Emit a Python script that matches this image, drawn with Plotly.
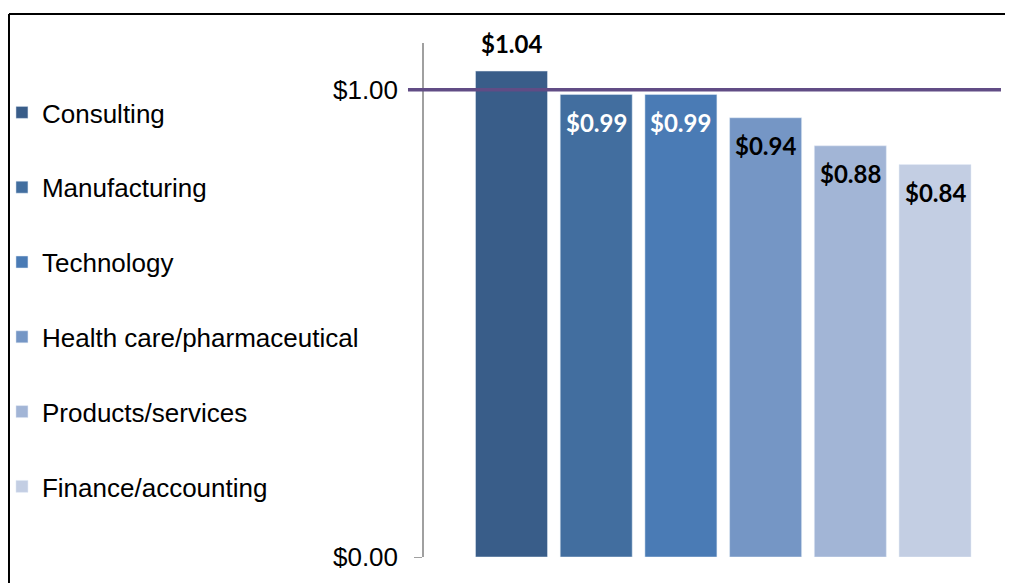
import plotly.graph_objects as go

industries = ["Consulting", "Manufacturing", "Technology",
              "Health care/pharmaceutical", "Products/services", "Finance/accounting"]
pay_ratio = [1.04, 0.99, 0.99, 0.94, 0.88, 0.84]
bar_colors = ["#395D89", "#426E9F", "#4A7BB5", "#7596C5", "#A2B5D6", "#C3CEE3"]
label_colors = ["#000000", "#FFFFFF", "#FFFFFF", "#000000", "#000000", "#000000"]
y_ticks = [0, 1.0]
y_tick_text = ["$0.00", "$1.00"]
parity = 1.0

# the page adds an 8px body margin, so the plot box is laid out 8px up/left
fig = go.Figure()
for i, (name, val, col) in enumerate(zip(industries, pay_ratio, bar_colors)):
    fig.add_trace(go.Bar(
        x=[i], y=[val], name=name,
        marker_color=col, legendgroup=name,
        hoverinfo="name+y",
    ))

# value labels: above the first bar, inside near the top for the rest
for i, val in enumerate(pay_ratio):
    fig.add_annotation(
        x=i, y=val, xref="x", yref="y",
        text="<b>$%.2f</b>" % val, showarrow=False,
        yshift=28 if i == 0 else -28,
        font=dict(family="Lato, Noto Sans, sans-serif", size=24, color=label_colors[i]),
    )

# parity line at $1.00
fig.add_shape(type="line", xref="paper", yref="y",
              x0=-0.0278, x1=1.0017, y0=parity, y1=parity,
              line=dict(color="#614C85", width=3.5))

# outer frame (top and left edges)
fig.add_shape(type="line", xref="paper", yref="paper",
              x0=-0.7205, x1=1.05, y0=1.0564, y1=1.0564,
              line=dict(color="#000000", width=2))
fig.add_shape(type="line", xref="paper", yref="paper",
              x0=-0.7205, x1=-0.7205, y0=-0.1, y1=1.0564,
              line=dict(color="#000000", width=2))

fig.update_layout(
    width=1013, height=583,
    margin=dict(l=416, r=21, t=35, b=34, autoexpand=False),
    paper_bgcolor="white", plot_bgcolor="white",
    bargap=0.15,
    showlegend=True,
    legend=dict(
        x=-0.7327, xanchor="left", y=0.9105, yanchor="top",
        bgcolor="rgba(0,0,0,0)",
        font=dict(family="Liberation Sans, Arial, sans-serif", size=26, color="#000000"),
        tracegroupgap=38, itemclick=False,
    ),
    xaxis=dict(range=[-1.033, 5.767], showticklabels=False, showgrid=False,
               zeroline=False, showline=False, ticks=""),
    yaxis=dict(range=[0, 1.1], tickvals=y_ticks, ticktext=y_tick_text,
               showgrid=False, zeroline=False,
               showline=True, linecolor="#A0A0A0", linewidth=1.5,
               ticks="outside", ticklen=8, tickcolor="#A0A0A0",
               ticklabelstandoff=11,
               tickfont=dict(family="Liberation Sans, Arial, sans-serif", size=26, color="#000000")),
)

fig.write_html("out.html")
